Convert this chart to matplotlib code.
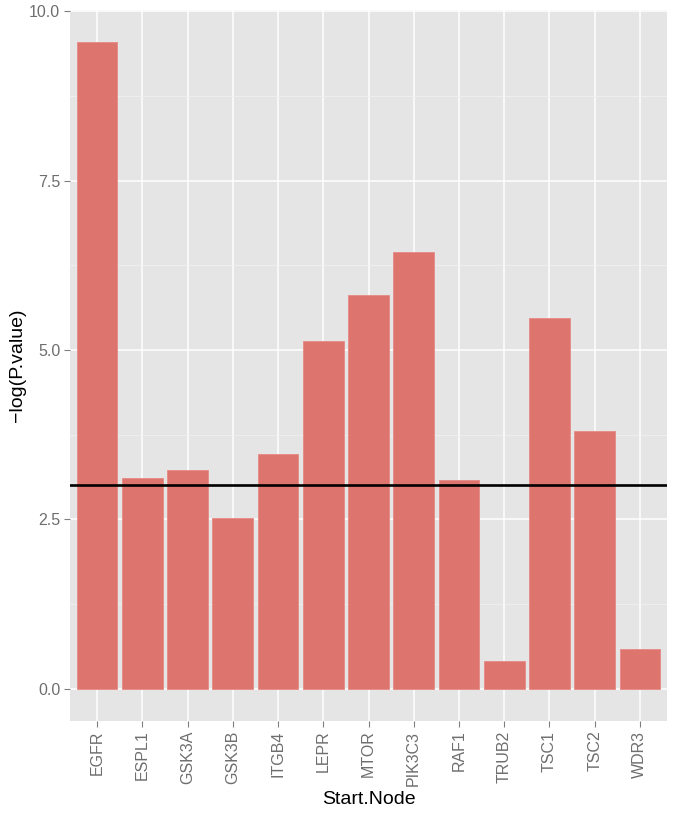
import numpy as np
import matplotlib
matplotlib.use("Agg")
import matplotlib.pyplot as plt
from matplotlib.ticker import MultipleLocator

nodes = ["EGFR", "ESPL1", "GSK3A", "GSK3B", "ITGB4", "LEPR", "MTOR",
         "PIK3C3", "RAF1", "TRUB2", "TSC1", "TSC2", "WDR3"]
neg_log_p = [9.54, 3.11, 3.23, 2.52, 3.46, 5.13, 5.81,
             6.44, 3.08, 0.41, 5.47, 3.81, 0.58]
threshold = 3.0

plt.rcParams["font.family"] = ["Liberation Sans", "DejaVu Sans"]

fig = plt.figure(figsize=(6.75, 8.16), dpi=100)
ax = fig.add_axes([0.1037, 0.1164, 0.8845, 0.8713])

x = np.arange(1, len(nodes) + 1)
ax.set_facecolor("#E5E5E5")
ax.bar(x, neg_log_p, width=0.9, color="#DD756E", edgecolor="#E58A83",
       linewidth=0.6, zorder=3)
ax.axhline(threshold, color="black", linewidth=1.9, zorder=4)

top = max(neg_log_p)
pad = top * 0.05
ax.set_ylim(-pad, top + pad)
ax.set_xlim(0.4, len(nodes) + 0.6)

ax.yaxis.set_minor_locator(MultipleLocator(1.25))
ax.set_yticks([0, 2.5, 5, 7.5, 10])
ax.set_yticklabels(["0.0", "2.5", "5.0", "7.5", "10.0"])
ax.set_xticks(x)
ax.set_xticklabels(nodes, rotation=90)

ax.grid(which="major", color="white", linewidth=1.1, zorder=1)
ax.grid(which="minor", axis="y", color="#F2F2F2", linewidth=0.5, zorder=1)
ax.set_axisbelow(True)
for s in ax.spines.values():
    s.set_visible(False)

ax.tick_params(axis="both", which="major", colors="#7F7F7F", length=4,
               width=0.8, labelsize=11.5, labelcolor="#6E6E6E", pad=3)
ax.tick_params(axis="y", which="minor", length=0)

ax.set_xlabel("Start.Node", fontsize=14, labelpad=4)
ax.set_ylabel("\u2212log(P.value)", fontsize=14, labelpad=2)

fig.savefig("out.png", dpi=100)
